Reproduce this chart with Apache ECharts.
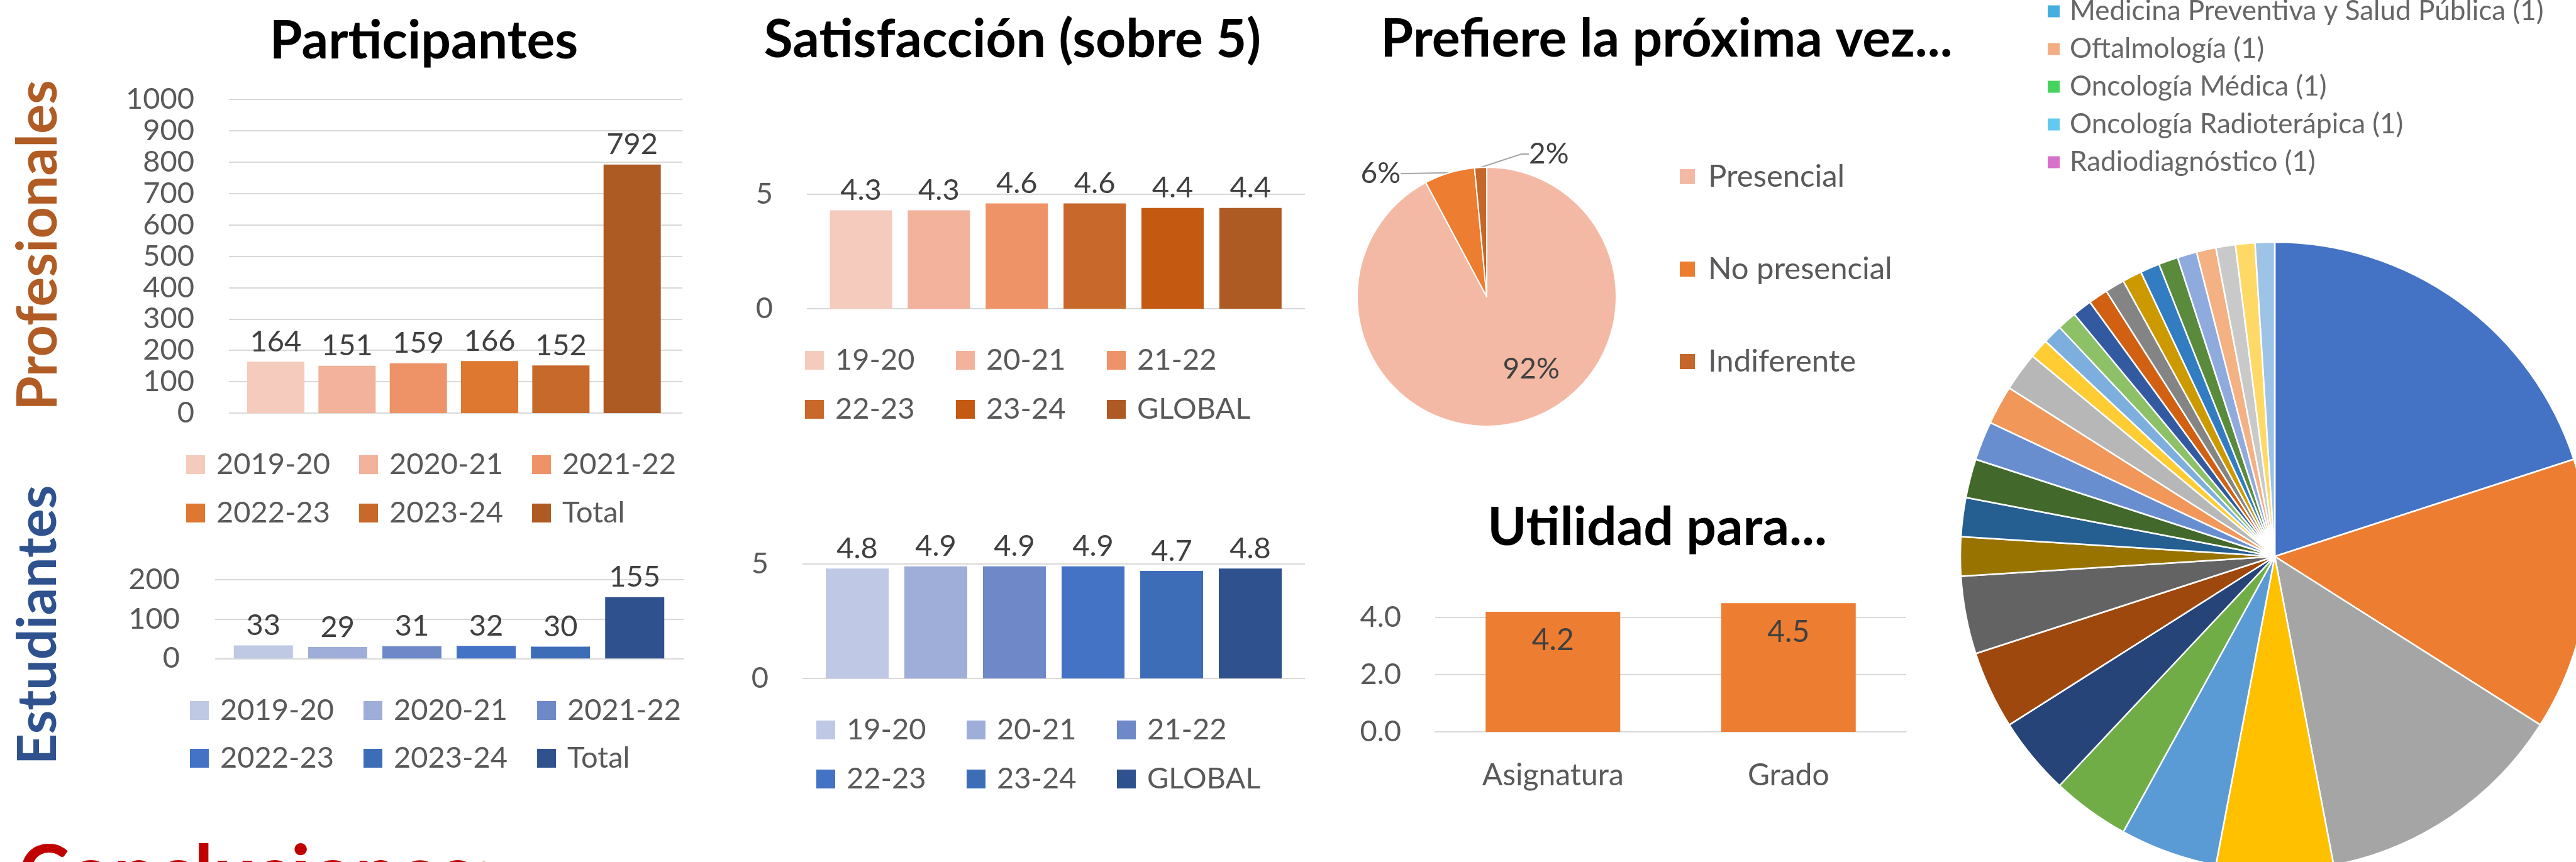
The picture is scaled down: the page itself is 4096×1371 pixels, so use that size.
<!DOCTYPE html>
<html><head><meta charset="utf-8">
<script src="https://cdn.jsdelivr.net/npm/echarts@6/dist/echarts.min.js"></script>
<style>html,body{margin:0;padding:0;background:#fff;overflow:hidden}#c{width:4096px;height:1371px}</style>
</head><body><div id="c"></div><script>
// ---------- data ----------
const yearCategories = ['2019-20','2020-21','2021-22','2022-23','2023-24','Total'];
const profValues = [164,151,159,166,152,792];
const studValues = [33,29,31,32,30,155];
const satCategories = ['19-20','20-21','21-22','22-23','23-24','GLOBAL'];
const satProfValues = [4.3,4.3,4.6,4.6,4.4,4.4];
const satStudValues = [4.8,4.9,4.9,4.9,4.7,4.8];
const prefNames = ['Presencial','No presencial','Indiferente'];
const prefValues = [92.2,6.3,1.5];
const utilCategories = ['Asignatura','Grado'];
const utilValues = [4.2,4.5];
const specialtyValues = [20,14,13,6,5,4,4,4,4,2,2,2,2,2,2,1,1,1,1,1,1,1,1,1,1,1,1,1,1];
const specialtyLegend = ['Medicina Preventiva y Salud Pública (1)','Oftalmología (1)','Oncología Médica (1)','Oncología Radioterápica (1)','Radiodiagnóstico (1)'];
const specialtyLegendValues = [1,1,1,1,1];
const titles = ['Participantes','Satisfacción (sobre 5)','Prefiere la próxima vez...','Utilidad para...'];

// ---------- styles ----------
const orangeShades = ['#F5CBBE','#F2B29B','#EE9267','#DE772F','#C7692A','#AE5A23'];
const satOrangeShades = ['#F5CBBE','#F2B29B','#EE9267','#C8692B','#C45A12','#AE5A23'];
const blueShades = ['#BFC9E4','#9FAED8','#6E88C8','#4472C4','#3E6DB8','#2F528F'];
const satBlueShades = ['#BFC9E5','#9FAED8','#6E88C8','#4472C4','#3E6DB8','#2F528F'];
const prefColors = ['#F4B9A4','#ED7D31','#C5672A'];
const specialtyColors = ['#4472C4','#ED7D31','#A5A5A5','#FFC000','#5B9BD5','#70AD47','#264478','#9E480E','#636363','#997300','#255E91','#43682B','#698ED0','#F1975A','#B7B7B7','#FFCD33','#7CAFDD','#8CC168','#335AA1','#D26012','#848484','#CC9A00','#327DC2','#5A8A3C','#8FAADC','#F4B183','#C9C9C9','#FFD966','#9DC3E6'];
const specialtyLegendColors = ['#45AEE0','#F3AD85','#46D35B','#62C9F1','#D771C9'];
const FONT = 'Lato';
const AX = '#595959', LBL = '#404040', GRIDC = '#D9D9D9';

const chart = echarts.init(document.getElementById('c'), null, {renderer:'canvas'});

function barSeries(prefix, names, values, colors, axisIdx, barW, decimals) {
  return names.map((n, i) => ({
    type: 'bar', name: prefix + '|' + n, xAxisIndex: axisIdx, yAxisIndex: axisIdx,
    barWidth: barW, barGap: '-100%', silent: true,
    data: [[i, values[i]]],
    itemStyle: {color: colors[i]},
    label: {show: true, position: 'top', distance: 8, fontFamily: FONT, fontSize: 47, color: LBL,
      formatter: p => p.value[1].toFixed(decimals)}
  }));
}
function barLegend(names, prefix, left, cy, gap) {
  return {
    data: names.map(n => prefix + '|' + n), left: left, top: cy - 23.5, orient: 'horizontal', padding: 0,
    itemWidth: 30, itemHeight: 30, itemGap: gap, icon: 'rect', selectedMode: false,
    formatter: n => n.split('|')[1],
    textStyle: {fontFamily: FONT, fontSize: 47, color: AX, width: 150, lineHeight: 30, padding: [0,0,0,13]}
  };
}
function valueY(grid, max, interval, margin, fmt) {
  return {type: 'value', gridIndex: grid, min: 0, max: max, interval: interval,
    axisLine: {show: false}, axisTick: {show: false},
    axisLabel: {fontFamily: FONT, fontSize: 47, color: AX, margin: margin, formatter: fmt || (v => String(v)),
      showMaxLabel: true},
    splitLine: {lineStyle: {color: GRIDC, width: 2}}};
}
function hiddenX(grid, min, max) {
  return {type: 'value', gridIndex: grid, min: min, max: max, show: false};
}
function txt(text, x, y, size, color, align, rot) {
  return {type: 'text', x: x, y: y, rotation: rot || 0, silent: true,
    style: {text: text, x: 0, y: 0, textAlign: align || 'center', textVerticalAlign: 'middle',
      font: 'bold ' + size + 'px ' + FONT, fill: color}};
}

const utilY = valueY(4, 5, 2, 54, v => v.toFixed(1));
utilY.axisLabel.showMaxLabel = false;
utilY.splitLine.showMaxLine = false;

const option = {
  animation: false,
  backgroundColor: '#fff',
  grid: [
    {left: 364, top: 158, width: 721, height: 499, outerBoundsMode: 'none'},
    {left: 342, top: 921.5, width: 746, height: 125.8, outerBoundsMode: 'none'},
    {left: 1283, top: 309, width: 792, height: 182, outerBoundsMode: 'none'},
    {left: 1276, top: 897, width: 799, height: 182, outerBoundsMode: 'none'},
    {left: 2282, top: 936.5, width: 749, height: 227.5, outerBoundsMode: 'none'}
  ],
  xAxis: [
    hiddenX(0, -0.657, 5.704),
    hiddenX(1, -0.65, 5.667),
    hiddenX(2, -0.695, 5.70),
    hiddenX(3, -0.696, 5.696),
    {type: 'category', gridIndex: 4, data: utilCategories,
      axisLine: {lineStyle: {color: GRIDC, width: 2}}, axisTick: {show: false},
      axisLabel: {fontFamily: FONT, fontSize: 48, color: AX, margin: 46}}
  ],
  yAxis: [
    valueY(0, 1000, 100, 55),
    valueY(1, 200, 100, 56),
    valueY(2, 5, 5, 54),
    valueY(3, 5, 5, 54),
    utilY
  ],
  legend: [
    barLegend(yearCategories.slice(0,3), 'P', 296, 739, 46),
    barLegend(yearCategories.slice(3), 'P', 296, 816, 46),
    barLegend(yearCategories.slice(0,3), 'E', 302, 1130, 47),
    barLegend(yearCategories.slice(3), 'E', 302, 1206, 47),
    barLegend(satCategories.slice(0,3), 'S', 1280, 573, 42),
    barLegend(satCategories.slice(3), 'S', 1280, 651, 42),
    barLegend(satCategories.slice(0,3), 'T', 1298, 1161, 41),
    barLegend(satCategories.slice(3), 'T', 1298, 1239, 41),
    {data: prefNames, orient: 'vertical', left: 2669, top: 256.5, padding: 0, itemWidth: 26, itemHeight: 26,
      itemGap: 98, icon: 'rect', selectedMode: false,
      textStyle: {fontFamily: FONT, fontSize: 49, color: AX, lineHeight: 26, padding: [0,0,0,15]}},
    {data: specialtyLegend, orient: 'vertical', left: 3256, top: -4, padding: 0, itemWidth: 19, itemHeight: 19,
      itemGap: 16, icon: 'rect', selectedMode: false,
      textStyle: {fontFamily: FONT, fontSize: 44, color: '#666666', lineHeight: 19, padding: [0,0,0,11]}}
  ],
  series: [].concat(
    barSeries('P', yearCategories, profValues, orangeShades, 0, 91, 0),
    barSeries('E', yearCategories, studValues, blueShades, 1, 94, 0),
    barSeries('S', satCategories, satProfValues, satOrangeShades, 2, 99, 1),
    barSeries('T', satCategories, satStudValues, satBlueShades, 3, 100, 1),
    [{
      type: 'bar', name: 'Utilidad', xAxisIndex: 4, yAxisIndex: 4, silent: true,
      barWidth: 214, data: utilValues, itemStyle: {color: '#ED7D31'},
      label: {show: true, position: 'insideTop', distance: 22, fontFamily: FONT, fontSize: 48, color: LBL,
        formatter: p => p.value.toFixed(1)}
    },
    {
      type: 'pie', name: 'Prefiere', center: [2364, 472], radius: 206, startAngle: 90, clockwise: true,
      percentPrecision: 0, silent: true, avoidLabelOverlap: false,
      data: prefNames.map((n, i) => ({name: n, value: prefValues[i], itemStyle: {color: prefColors[i]},
        label: {position: i === 0 ? 'inside' : 'outside'}})),
      itemStyle: {borderColor: '#fff', borderWidth: 2},
      label: {show: true, formatter: '{d}%', fontFamily: FONT, fontSize: 46, color: LBL},
      labelLine: {show: true, length: 14, length2: 12, lineStyle: {color: '#A6A6A6', width: 2}},
      labelLayout: function (p) {
        if (p.dataIndex === 2) {
          return {x: p.rect.x + p.rect.width + 66, y: p.rect.y - 20, align: 'left', verticalAlign: 'middle'};
        }
        if (p.dataIndex === 1) {
          return {x: p.rect.x - 39, y: p.rect.y + 10, align: 'right', verticalAlign: 'middle'};
        }
        return {dx: 45, dy: 12};
      }
    },
    {
      type: 'pie', name: 'Especialidades', center: [3617, 885], radius: 500, startAngle: 90, clockwise: true,
      silent: true, data: specialtyValues, color: specialtyColors,
      itemStyle: {borderColor: '#fff', borderWidth: 2.5},
      label: {show: false}, labelLine: {show: false}
    },
    {
      type: 'pie', name: 'EspecialidadesLeyenda', center: [3300, 150], radius: [0, 0], silent: true,
      data: specialtyLegend.map((n, i) => ({name: n, value: specialtyLegendValues[i], itemStyle: {color: specialtyLegendColors[i]}})),
      label: {show: false}, labelLine: {show: false}
    }]
  ),
  graphic: [
    txt(titles[0], 674, 66, 84, '#000'),
    txt(titles[1], 1610, 64, 84, '#000'),
    txt(titles[2], 2650, 63, 84, '#000'),
    txt(titles[3], 2635, 840, 84, '#000'),
    txt('Profesionales', 62, 390, 88, '#B05C24', 'center', Math.PI / 2),
    txt('Estudiantes', 61.5, 994, 86, '#2F528F', 'center', Math.PI / 2),
    txt('Conclusiones:', 29, 1392, 123, '#C00000', 'left')
  ]
};
chart.setOption(option);
</script></body></html>
